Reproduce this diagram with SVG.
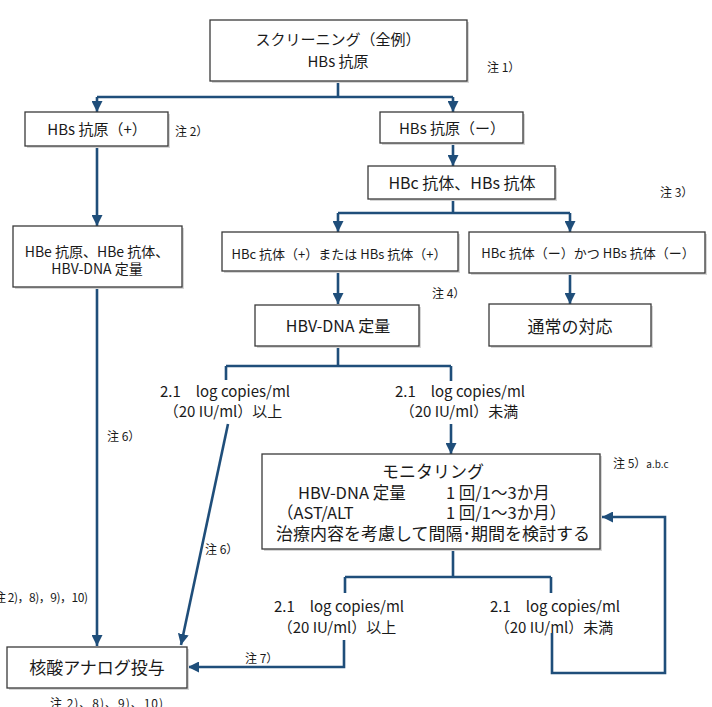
<svg xmlns="http://www.w3.org/2000/svg" width="712" height="707" viewBox="0 0 712 707">
  <style>
    text { font-family: "Noto Sans CJK JP", "Noto Sans", sans-serif; fill: #1a1a1a; }
    .box { fill: #ffffff; stroke: #3a3a3a; stroke-width: 1.3; }
    .shadow { fill: #d6d6d6; stroke: none; }
    .conn { fill: none; stroke: #1f4e7a; stroke-width: 2.6; }
    .t15 { font-size: 15px; text-anchor: middle; }
    .t17 { font-size: 17px; text-anchor: middle; }
    .t16 { font-size: 16px; text-anchor: middle; }
    .t14 { font-size: 14px; text-anchor: middle; }
    .t13 { font-size: 13px; text-anchor: middle; }
    .val { font-size: 15px; text-anchor: middle; }
    .mon { font-size: 16.5px; }
    .note { font-size: 12px; }
  </style>
  <defs>
    <marker id="arrow" viewBox="0 0 10 10" refX="10" refY="5" markerWidth="11" markerHeight="11" markerUnits="userSpaceOnUse" orient="auto">
      <path d="M0,0 L10,5 L0,10 z" fill="#1f4e7a"/>
    </marker>
  </defs>

  <rect width="712" height="707" fill="#ffffff"/>

  <!-- connectors -->
  <g id="connectors">
    <path class="conn" d="M338 81 V97 M97 97 H453"/>
    <path class="conn" d="M97 97 V112" marker-end="url(#arrow)"/>
    <path class="conn" d="M453 97 V112" marker-end="url(#arrow)"/>
    <path class="conn" d="M97 146 V226" marker-end="url(#arrow)"/>
    <path class="conn" d="M453 143 V166" marker-end="url(#arrow)"/>
    <path class="conn" d="M453 199 V213 M338 213 H570"/>
    <path class="conn" d="M338 213 V232" marker-end="url(#arrow)"/>
    <path class="conn" d="M570 213 V232" marker-end="url(#arrow)"/>
    <path class="conn" d="M338 271 V304" marker-end="url(#arrow)"/>
    <path class="conn" d="M570 273 V304" marker-end="url(#arrow)"/>
    <path class="conn" d="M338 346 V366 M226 366 H451 M226 366 V380 M451 366 V381"/>
    <path class="conn" d="M451 424 V454" marker-end="url(#arrow)"/>
    <path class="conn" d="M228 424 L181 645" marker-end="url(#arrow)"/>
    <path class="conn" d="M97 287 V646" marker-end="url(#arrow)"/>
    <path class="conn" d="M453 549 V577 M345 577 H551 M345 577 V593 M551 577 V593"/>
    <path class="conn" d="M344 640 V667 H188" marker-end="url(#arrow)"/>
    <path class="conn" d="M552 633 V673 H665 V517 H602" marker-end="url(#arrow)"/>
  </g>

  <!-- screening -->
  <g id="screening">
    <rect class="shadow" x="212" y="22" width="257" height="61"/>
    <rect class="box" x="210" y="20" width="257" height="61"/>
    <text class="t15" x="338" y="45">スクリーニング（全例）</text>
    <text class="t15" x="338" y="67">HBs 抗原</text>
  </g>
  <text class="note" x="487" y="72">注 1）</text>

  <!-- HBs antigen positive -->
  <g id="hbs-pos">
    <rect class="shadow" x="27" y="114" width="143" height="34"/>
    <rect class="box" x="25" y="112" width="143" height="34"/>
    <text class="t15" x="97" y="135">HBs 抗原（+）</text>
  </g>
  <text class="note" x="175" y="136">注 2）</text>

  <!-- HBs antigen negative -->
  <g id="hbs-neg">
    <rect class="shadow" x="382" y="114" width="143" height="31"/>
    <rect class="box" x="380" y="112" width="143" height="31"/>
    <text class="t15" x="452" y="134">HBs 抗原（ー）</text>
  </g>

  <!-- HBc / HBs antibody -->
  <g id="hbc-hbs">
    <rect class="shadow" x="370" y="168" width="187" height="33"/>
    <rect class="box" x="368" y="166" width="187" height="33"/>
    <text class="t16" x="462" y="189">HBc 抗体、HBs 抗体</text>
  </g>
  <text class="note" x="660" y="197">注 3）</text>

  <!-- HBe / DNA tests -->
  <g id="hbe">
    <rect class="shadow" x="15" y="228" width="169" height="61"/>
    <rect class="box" x="13" y="226" width="169" height="61"/>
    <text class="t14" x="97" y="257">HBe 抗原、HBe 抗体、</text>
    <text class="t14" x="97" y="274">HBV-DNA 定量</text>
  </g>

  <!-- antibody positive -->
  <g id="ab-pos">
    <rect class="shadow" x="224" y="234" width="236" height="39"/>
    <rect class="box" x="222" y="232" width="236" height="39"/>
    <text class="t13" x="339" y="259">HBc 抗体（+）または HBs 抗体（+）</text>
  </g>

  <!-- antibody negative -->
  <g id="ab-neg">
    <rect class="shadow" x="471" y="234" width="236" height="41"/>
    <rect class="box" x="469" y="232" width="236" height="41"/>
    <text class="t13" x="588" y="258">HBc 抗体（ー）かつ HBs 抗体（ー）</text>
  </g>
  <text class="note" x="432" y="298">注 4）</text>

  <!-- HBV-DNA quantification -->
  <g id="dna">
    <rect class="shadow" x="257" y="307" width="164" height="41"/>
    <rect class="box" x="255" y="305" width="164" height="41"/>
    <text class="t16" x="338" y="332">HBV-DNA 定量</text>
  </g>

  <!-- usual care -->
  <g id="usual">
    <rect class="shadow" x="491" y="306" width="162" height="42"/>
    <rect class="box" x="489" y="304" width="162" height="42"/>
    <text class="t17" x="570" y="333">通常の対応</text>
  </g>

  <!-- DNA result labels -->
  <g id="dna-high">
    <text class="val" x="225" y="397">2.1　log copies/ml</text>
    <text class="val" x="223" y="417">（20 IU/ml）以上</text>
  </g>
  <g id="dna-low">
    <text class="val" x="460" y="397">2.1　log copies/ml</text>
    <text class="val" x="459" y="417">（20 IU/ml）未満</text>
  </g>
  <text class="note" x="107" y="441">注 6）</text>
  <text class="note" x="205" y="554">注 6）</text>

  <!-- monitoring -->
  <g id="monitoring">
    <rect class="shadow" x="264" y="456" width="338" height="95"/>
    <rect class="box" x="262" y="454" width="338" height="95"/>
    <text class="t17" x="433" y="478">モニタリング</text>
    <text class="mon" x="298" y="499">HBV-DNA 定量</text>
    <text class="mon" x="446" y="499">1 回/1～3か月</text>
    <text class="mon" x="277" y="519">（AST/ALT</text>
    <text class="mon" x="446" y="519">1 回/1～3か月）</text>
    <text class="t17" x="433" y="540">治療内容を考慮して間隔･期間を検討する</text>
  </g>
  <text class="note" x="613" y="468">注 5）<tspan style="font-size:10px">a.b.c</tspan></text>

  <!-- monitoring result labels -->
  <g id="mon-high">
    <text class="val" x="339" y="612">2.1　log copies/ml</text>
    <text class="val" x="337" y="633">（20 IU/ml）以上</text>
  </g>
  <g id="mon-low">
    <text class="val" x="555" y="612">2.1　log copies/ml</text>
    <text class="val" x="554" y="633">（20 IU/ml）未満</text>
  </g>
  <text class="note" x="245" y="663">注 7）</text>

  <!-- nucleoside analogue -->
  <g id="analogue">
    <rect class="shadow" x="9" y="649" width="180" height="41"/>
    <rect class="box" x="7" y="647" width="180" height="41"/>
    <text class="t17" x="97" y="674">核酸アナログ投与</text>
  </g>
  <text class="note" x="-6" y="602" textLength="94" lengthAdjust="spacing">注 2)，8)，9)，10)</text>
  <text class="note" x="50" y="708" textLength="113" lengthAdjust="spacing">注 2)、8)、9)、10)</text>
</svg>
